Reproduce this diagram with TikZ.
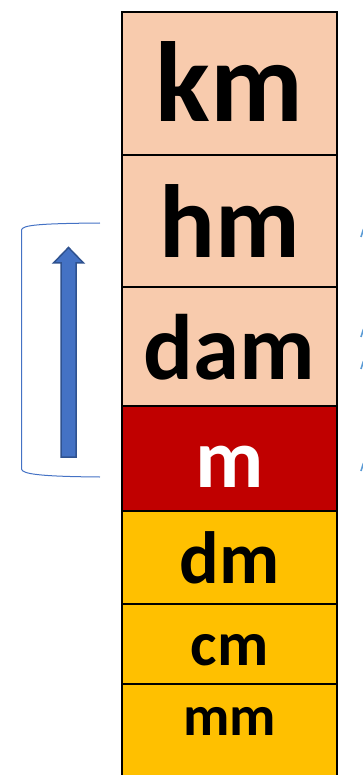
\documentclass[tikz,border=0pt]{standalone}
\usepackage{fontspec}
\setmainfont{Carlito}
\usepackage{xcolor}
\usepackage{tikz}
\usetikzlibrary{positioning}

\definecolor{unitpeach}{HTML}{F8CBAD}
\definecolor{unitred}{HTML}{C00000}
\definecolor{unitgold}{HTML}{FFC000}
\definecolor{arrowblue}{HTML}{4472C4}
\definecolor{arrowedge}{HTML}{2F528F}
\definecolor{markblue}{HTML}{5B9BD5}

\newcommand{\unitfont}[1]{\fontsize{#1}{#1}\selectfont\bfseries}

\begin{document}
\begin{tikzpicture}[
    x=1pt, y=-1pt,
    unitbox/.style={rectangle, draw=black, line width=1.3pt, minimum width=215pt, outer sep=0pt, inner sep=0pt},
    unitlabel/.style={anchor=base, inner sep=0pt, text=black},
    frame/.style={black, line width=2.6pt},
    bracket/.style={draw=arrowblue, line width=1pt},
    tipmark/.style={draw=markblue, line width=1.6pt}
]
\useasboundingbox (0,0) rectangle (363,775);

% Boxes
\node[unitbox, fill=unitpeach, minimum height=143pt, anchor=north] (km) at (229.5,12) {};
\node[unitbox, fill=unitpeach, minimum height=132pt, below=0pt of km] (hm) {};
\node[unitbox, fill=unitpeach, minimum height=119pt, below=0pt of hm] (dam) {};
\node[unitbox, fill=unitred, minimum height=105pt, below=0pt of dam] (m) {};
\node[unitbox, fill=unitgold, minimum height=93pt, below=0pt of m] (dm) {};
\node[unitbox, fill=unitgold, minimum height=80pt, below=0pt of dm] (cm) {};
\node[unitbox, fill=unitgold, minimum height=100pt, below=0pt of cm] (mm) {};

% Outer frame
\draw[frame] (mm.south west) -- (km.north west) -- (km.north east) -- (mm.south east);

% Labels (yshift is in page direction, so negative goes down)
\node[unitlabel, font=\unitfont{114}] (kmtext) at ([yshift=-110pt]km.north) {km};
\node[unitlabel, font=\unitfont{104}] (hmtext) at ([yshift=-103pt]hm.north) {hm};
\node[unitlabel, font=\unitfont{93}] (damtext) at ([yshift=-92pt]dam.north) {dam};
\node[unitlabel, font=\unitfont{84}, text=white] (mtext) at ([yshift=-81pt]m.north) {m};
\node[unitlabel, font=\unitfont{74}] (dmtext) at ([yshift=-72pt]dm.north) {dm};
\node[unitlabel, font=\unitfont{63}] (cmtext) at ([yshift=-61pt]cm.north) {cm};
\node[unitlabel, font=\unitfont{57}] (mmtext) at ([yshift=-51pt]mm.north) {mm};

% Bracket and arrow
\draw[bracket] (100,223) .. controls (40,223.5) and (22,225) .. (21.5,230)
    -- (21.5,469) .. controls (22,474) and (40,476.5) .. (100,477);
\draw[fill=arrowblue, draw=arrowedge, line width=1.5pt]
    (61,457) -- (61,263) -- (53.5,263) -- (68.5,247.5) -- (83.5,263) -- (76,263) -- (76,457) -- cycle;

% Marks at the right edge
\draw[tipmark] (361,237) -- (363.5,229);
\draw[tipmark] (361,337) -- (363.5,329);
\draw[tipmark] (361,369) -- (363.5,361);
\draw[tipmark] (361,471) -- (363.5,463);

\end{tikzpicture}
\end{document}
